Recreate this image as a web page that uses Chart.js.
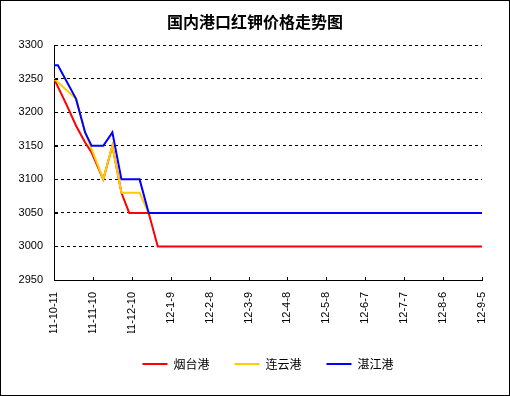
<!DOCTYPE html>
<html>
<head>
<meta charset="utf-8">
<script src="https://cdn.jsdelivr.net/npm/chart.js@4.4.1/dist/chart.umd.min.js"></script>
<style>
  html, body { margin: 0; padding: 0; background: #fff; }
  #wrap { width: 510px; height: 396px; }
</style>
</head>
<body>
<div id="wrap"><canvas id="chart" width="510" height="396"></canvas></div>
<script>
// price dates and port prices (yuan/t)
const dates = ['2011-10-11', '2011-10-14', '2011-10-21', '2011-10-28', '2011-11-04', '2011-11-09',
  '2011-11-18', '2011-11-25', '2011-12-02', '2011-12-08', '2011-12-16', '2011-12-23', '2011-12-30', '2012-09-05'];
const yantai      = [3250, null, 3210, 3180, 3155, 3140, 3100, 3150, 3080, 3050, null, 3050, 3000, 3000];
const lianyungang = [3250, null, null, 3220, 3170, null, 3100, 3150, 3080, null, 3080, 3050, null, 3050];
const zhanjiang   = [3270, 3270, null, 3220, 3170, 3150, 3150, 3170, 3100, null, 3100, 3050, null, 3050];
const seriesNames = ['烟台港', '连云港', '湛江港'];
const tickLabels = ['11-10-11', '11-11-10', '11-12-10', '12-1-9', '12-2-8', '12-3-9',
  '12-4-8', '12-5-8', '12-6-7', '12-7-7', '12-8-6', '12-9-5'];
const yTicks = [2950, 3000, 3050, 3100, 3150, 3200, 3250, 3300];

const DAY = 86400000;
const start = Date.parse(dates[0]);
const dayNum = dates.map(d => Math.round((Date.parse(d) - start) / DAY));

function points(values) {
  return values.map((v, i) => ({ x: dayNum[i], y: v }));
}

const tickFont = { family: "'Liberation Sans', Arial, sans-serif", size: 11 };

// white page, frame, and the little inward tick marks
const frame = {
  id: 'frame',
  beforeDraw(chart) {
    const c = chart.ctx;
    c.save();
    c.fillStyle = '#fff';
    c.fillRect(0, 0, chart.width, chart.height);
    c.restore();
  },
  afterDraw(chart) {
    const c = chart.ctx, xs = chart.scales.x, ys = chart.scales.y;
    c.save();
    c.strokeStyle = '#000';
    c.lineWidth = 1;
    c.beginPath();
    ys.ticks.forEach(t => {
      const py = Math.round(ys.getPixelForValue(t.value)) + 0.5;
      c.moveTo(xs.left, py);
      c.lineTo(xs.left + 4, py);
    });
    xs.ticks.forEach(t => {
      const px = Math.round(xs.getPixelForValue(t.value)) + 0.5;
      c.moveTo(px, ys.bottom);
      c.lineTo(px, ys.bottom - 3);
    });
    c.stroke();
    c.strokeRect(0.5, 0.5, chart.width - 1, chart.height - 1);
    c.restore();
  }
};

const colors = ['#ff0000', '#ffcc00', '#0000ff'];
const series = [yantai, lianyungang, zhanjiang];

new Chart(document.getElementById('chart'), {
  type: 'line',
  data: {
    datasets: series.map((s, i) => ({
      label: seriesNames[i],
      data: points(s),
      borderColor: colors[i],
      backgroundColor: colors[i],
      borderWidth: 2,
      pointRadius: 0,
      tension: 0,
      spanGaps: true,
      order: 3 - i
    }))
  },
  options: {
    responsive: false,
    animation: false,
    layout: { padding: { left: 0, right: 0, top: 0, bottom: 16 } },
    plugins: {
      title: {
        display: true,
        text: '国内港口红钾价格走势图',
        color: '#000',
        font: { family: "'Noto Sans CJK SC', sans-serif", size: 16, weight: 'bold' },
        padding: { top: 12, bottom: 14 }
      },
      legend: {
        position: 'bottom',
        fullSize: false,
        labels: {
          usePointStyle: true,
          pointStyle: 'line',
          pointStyleWidth: 25,
          padding: 25,
          color: '#000',
          font: { family: "'Noto Sans CJK SC', sans-serif", size: 12 },
          sort: (a, b) => a.datasetIndex - b.datasetIndex
        }
      },
      tooltip: { enabled: false }
    },
    scales: {
      x: {
        type: 'linear',
        min: 0,
        max: 330,
        afterFit: s => { s.height = 53; },
        afterBuildTicks: s => { s.ticks = tickLabels.map((_, i) => ({ value: i * 30 })); },
        ticks: {
          autoSkip: false,
          maxRotation: 90,
          minRotation: 90,
          padding: 12,
          color: '#000',
          font: tickFont,
          callback: (v, i) => tickLabels[i]
        },
        grid: { display: false, drawTicks: false },
        border: { display: true, color: '#000', width: 1 }
      },
      y: {
        min: 2950,
        max: 3300,
        afterFit: s => { s.width = 54; },
        afterBuildTicks: s => { s.ticks = yTicks.map(v => ({ value: v })); },
        ticks: {
          padding: 11,
          color: '#000',
          font: tickFont,
          callback: v => String(v)
        },
        grid: { color: '#000', lineWidth: 1, drawTicks: false },
        border: { display: true, color: '#000', width: 1, dash: [3, 3] }
      },
      // empty right-hand strip so the plot stops short of the frame
      pad: {
        type: 'linear',
        position: 'right',
        display: true,
        afterFit: s => { s.width = 28; },
        ticks: { display: false },
        grid: { display: false, drawTicks: false },
        border: { display: false }
      }
    }
  },
  plugins: [frame]
});
</script>
</body>
</html>
